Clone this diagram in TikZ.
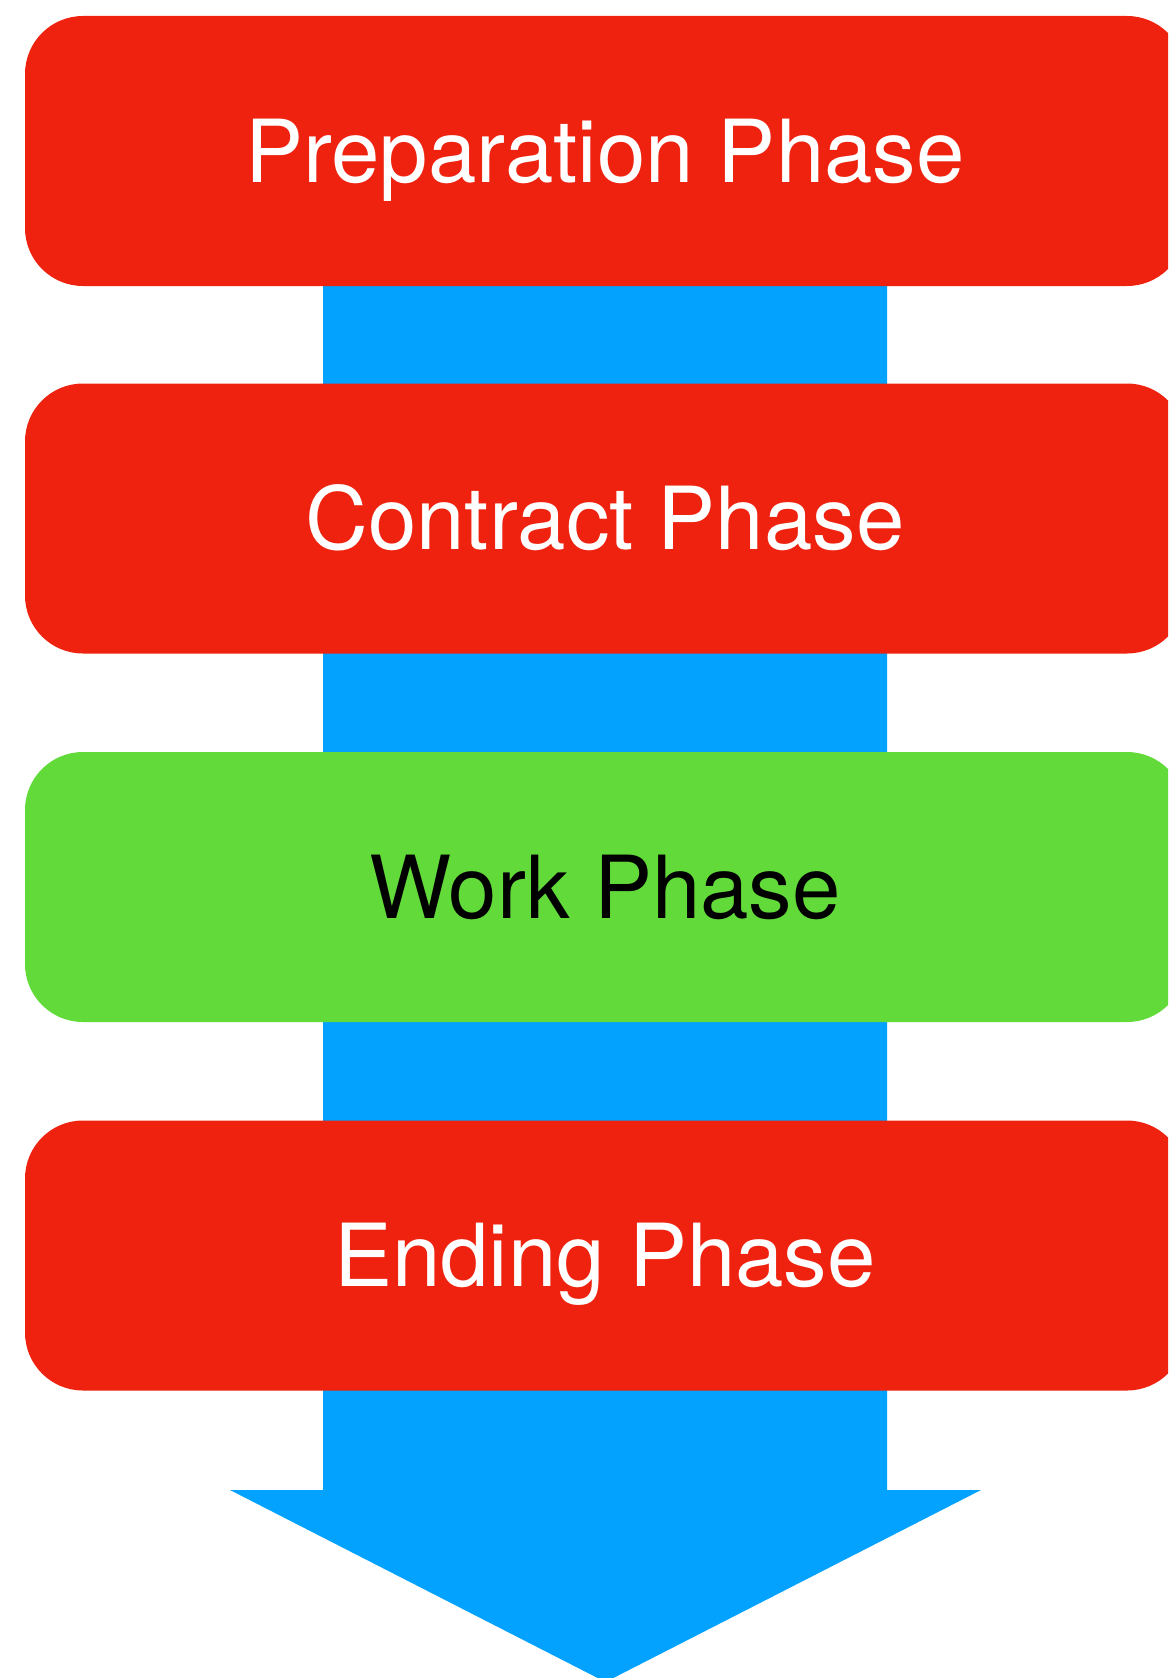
\documentclass[tikz,border=0pt]{standalone}
\usepackage{fontspec}
\setmainfont{TeX Gyre Heros}
\definecolor{phred}{RGB}{238,34,15}
\definecolor{phgreen}{RGB}{97,218,58}
\definecolor{arrblue}{RGB}{3,162,255}
\begin{document}
\begin{tikzpicture}[x=1pt,y=-1pt,
  phase/.style={rounded corners=58pt, minimum width=1160pt, minimum height=270pt,
    inner sep=0pt, outer sep=0pt, text height=62pt, text depth=0pt,
    font=\fontsize{87}{100}\selectfont, text=white},
  redphase/.style={phase, fill=phred},
  greenphase/.style={phase, fill=phgreen, text=black}]
\useasboundingbox (0,0) rectangle (1168,1678);
\clip (0,0) rectangle (1168,1678);
% block arrow behind the phases
\coordinate (tip) at (605.5,1682);
\fill[arrblue] (323,151) -- (323,1490) -- (230,1490) -- (tip) -- (981,1490) -- (887,1490) -- (887,151) -- cycle;
\node[redphase]   (prep) at (605,151)  {Preparation Phase};
\node[redphase]   (contr) at (605,518.5) {Contract Phase};
\node[greenphase] (work) at (605,887) {Work Phase};
\node[redphase]   (end) at (605,1255.5) {Ending Phase};
\end{tikzpicture}
\end{document}
